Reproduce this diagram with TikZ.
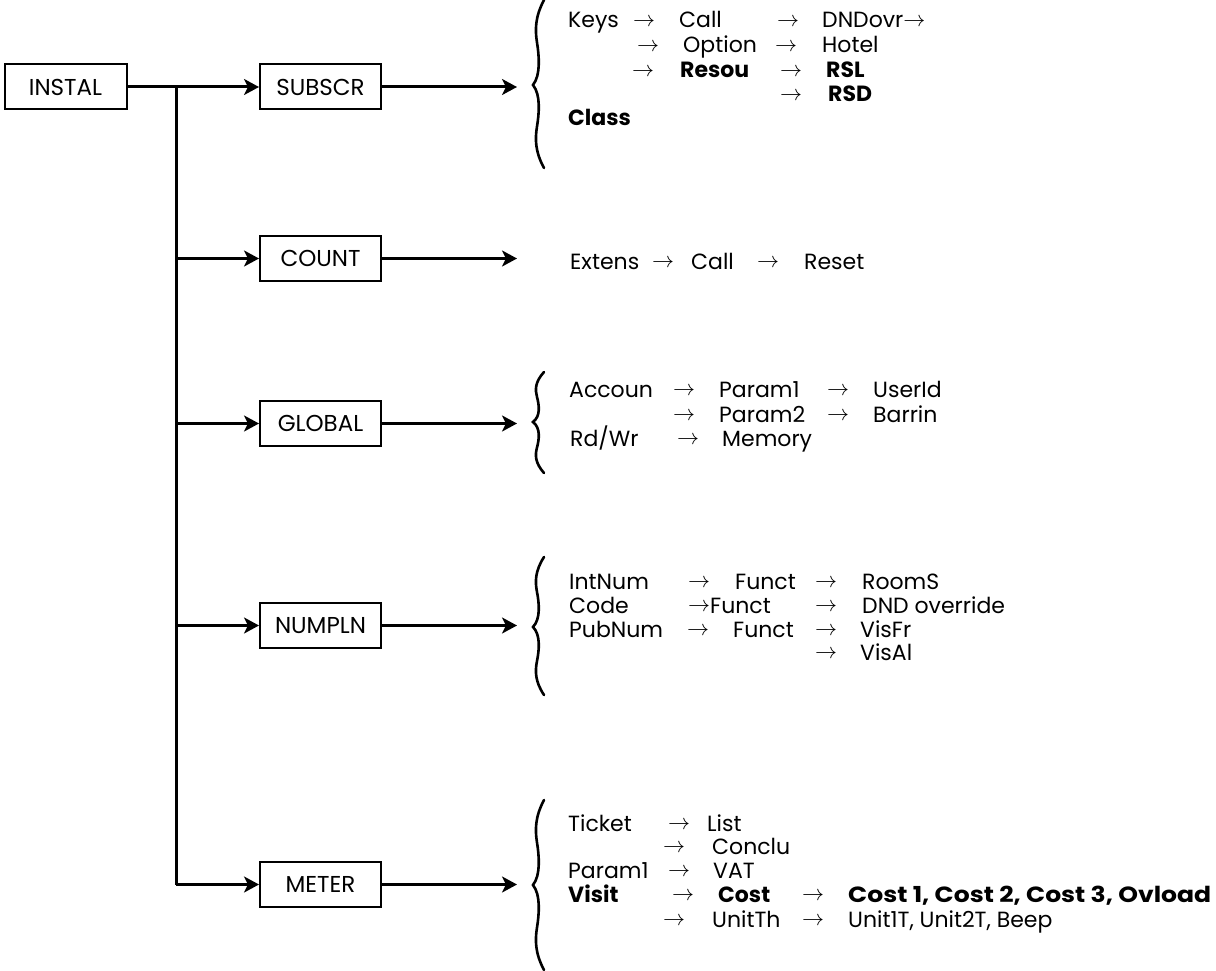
\documentclass[tikz,border=0pt]{standalone}
\usepackage{graphicx}
\usepackage{fontspec}
\setmainfont{Poppins}
\usetikzlibrary{arrows.meta}
\tikzset{
 box/.style={draw, line width=2pt, minimum width=121pt, minimum height=45pt, inner sep=0pt, font=\fontsize{23}{26}\selectfont},
 conn/.style={line width=3pt, -{Stealth[length=15pt,width=16pt,inset=4pt]}},
 trunk/.style={line width=3pt},
 lbl/.style={anchor=base west, inner sep=0pt, font=\fontsize{22}{26}\selectfont},
 brc/.style={line width=2.6pt, line cap=round},
}
\newcommand\rarr{\raisebox{1.5pt}{\scalebox{2.2}{\fontsize{10}{12}\selectfont$\rightarrow$}}}
\newcommand\tx[4]{\node[lbl] (#1) at (#2,#3) {#4};}
\newcommand\ar[3]{\node[lbl] (#1) at (#2,#3) {\rarr};}
\newcommand\wbrace[4]{%
 \draw[brc] ({#1+11},{#2}) .. controls ({#1+2},{#2+0.2*(#3-#2)}) and ({#1+2},{#2+0.35*(#3-#2)}) .. ({#1+4},{#2+0.5*(#3-#2)})
   .. controls ({#1+6},{#2+0.65*(#3-#2)}) and ({#1+8},{#3-0.12*(#3-#2)}) .. ({#1},{#3})
   .. controls ({#1+8},{#3+0.12*(#4-#3)}) and ({#1+6},{#3+0.35*(#4-#3)}) .. ({#1+4},{#3+0.5*(#4-#3)})
   .. controls ({#1+2},{#3+0.65*(#4-#3)}) and ({#1+2},{#4-0.2*(#4-#3)}) .. ({#1+11},{#4});}
\begin{document}
\begin{tikzpicture}[x=1pt,y=-1pt]
\useasboundingbox (0,0) rectangle (1216,971);
% boxes
\node[box, minimum width=122pt] (INSTAL) at (65.5,87) {INSTAL};
\node[box] (SUBSCR) at (320.5,87) {SUBSCR};
\node[box] (COUNT) at (320.5,258.5) {COUNT};
\node[box] (GLOBAL) at (320.5,423.5) {GLOBAL};
\node[box] (NUMPLN) at (320.5,625.5) {NUMPLN};
\node[box] (METER) at (320.5,884.5) {METER};
% trunk
\coordinate (j0) at (176,87);
\coordinate (jend) at (176,884.5);
\draw[conn] (INSTAL.east) -- (SUBSCR.west);
\draw[trunk] (j0) -- (jend);
\draw[conn] (jend) -- (METER.west);
\draw[conn] (COUNT.west -| j0) -- (COUNT.west);
\draw[conn] (GLOBAL.west -| j0) -- (GLOBAL.west);
\draw[conn] (NUMPLN.west -| j0) -- (NUMPLN.west);
% outgoing arrows
\coordinate (e1) at (517,87);
\coordinate (e2) at (517,258.5);
\coordinate (e3) at (517,423.5);
\coordinate (e4) at (517,625.5);
\coordinate (e5) at (517,884.5);
\draw[conn] (SUBSCR.east) -- (e1);
\draw[conn] (COUNT.east) -- (e2);
\draw[conn] (GLOBAL.east) -- (e3);
\draw[conn] (NUMPLN.east) -- (e4);
\draw[conn] (METER.east) -- (e5);
% braces
\wbrace{533}{0}{85}{168}
\wbrace{533}{372}{422}{473}
\wbrace{533}{557}{627}{695}
\wbrace{533}{800}{885}{970}
% SUBSCR texts
\tx{s1a}{568}{28}{Keys}\ar{s1b}{633}{28}\tx{s1c}{679}{28}{Call}\ar{s1d}{777}{28}\tx{s1e}{822}{28}{DNDovr\rarr}
\ar{s2a}{637}{53}\tx{s2b}{683}{53}{Option}\ar{s2c}{775}{53}\tx{s2d}{822}{53}{Hotel}
\ar{s3a}{632}{78}\tx{s3b}{680}{78}{\bfseries Resou}\ar{s3c}{780}{78}\tx{s3d}{826}{78}{\bfseries RSL}
\ar{s4a}{780}{102}\tx{s4b}{828}{102}{\bfseries RSD}
\tx{s5a}{568}{126}{\bfseries Class}
% COUNT texts
\tx{c1a}{570}{269}{Extens}\ar{c1b}{652}{269}\tx{c1c}{691}{269}{Call}\ar{c1d}{757}{269}\tx{c1e}{804}{269}{Reset}
% GLOBAL texts
\tx{g1a}{569}{397}{Accoun}\ar{g1b}{673}{397}\tx{g1c}{719}{397}{Param1}\ar{g1d}{827}{397}\tx{g1e}{873}{397}{UserId}
\ar{g2a}{673}{422}\tx{g2b}{719}{422}{Param2}\ar{g2c}{827}{422}\tx{g2d}{873}{422}{Barrin}
\tx{g3a}{570}{446}{Rd/Wr}\ar{g3b}{677}{446}\tx{g3c}{722}{446}{Memory}
% NUMPLN texts
\tx{n1a}{569}{589}{IntNum}\ar{n1b}{688}{589}\tx{n1c}{735}{589}{Funct}\ar{n1d}{815}{589}\tx{n1e}{862}{589}{RoomS}
\tx{n2a}{569}{613}{Code}\tx{n2b}{688}{613}{\rarr Funct}\ar{n2c}{815}{613}\tx{n2d}{862}{613}{DND override}
\tx{n3a}{569}{637}{PubNum}\ar{n3b}{687}{637}\tx{n3c}{733}{637}{Funct}\ar{n3d}{815}{637}\tx{n3e}{860}{637}{VisFr}
\ar{n4a}{815}{660}\tx{n4b}{860}{660}{VisAl}
% METER texts
\tx{m1a}{568}{831}{Ticket}\ar{m1b}{668}{831}\tx{m1c}{707}{831}{List}
\ar{m2a}{663}{854}\tx{m2b}{712}{854}{Conclu}
\tx{m3a}{568}{878}{Param1}\ar{m3b}{668}{878}\tx{m3c}{713}{878}{VAT}
\tx{m4a}{568}{902}{\bfseries Visit}\ar{m4b}{672}{902}\tx{m4c}{718}{902}{\bfseries Cost}\ar{m4d}{802}{902}\tx{m4e}{848}{902}{\scalebox{1.14}[1]{\bfseries Cost 1, Cost 2, Cost 3, Ovload}}
\ar{m5a}{663}{927}\tx{m5b}{712}{927}{UnitTh}\ar{m5c}{802}{927}\tx{m5d}{848}{927}{Unit1T, Unit2T, Beep}
\end{tikzpicture}
\end{document}
